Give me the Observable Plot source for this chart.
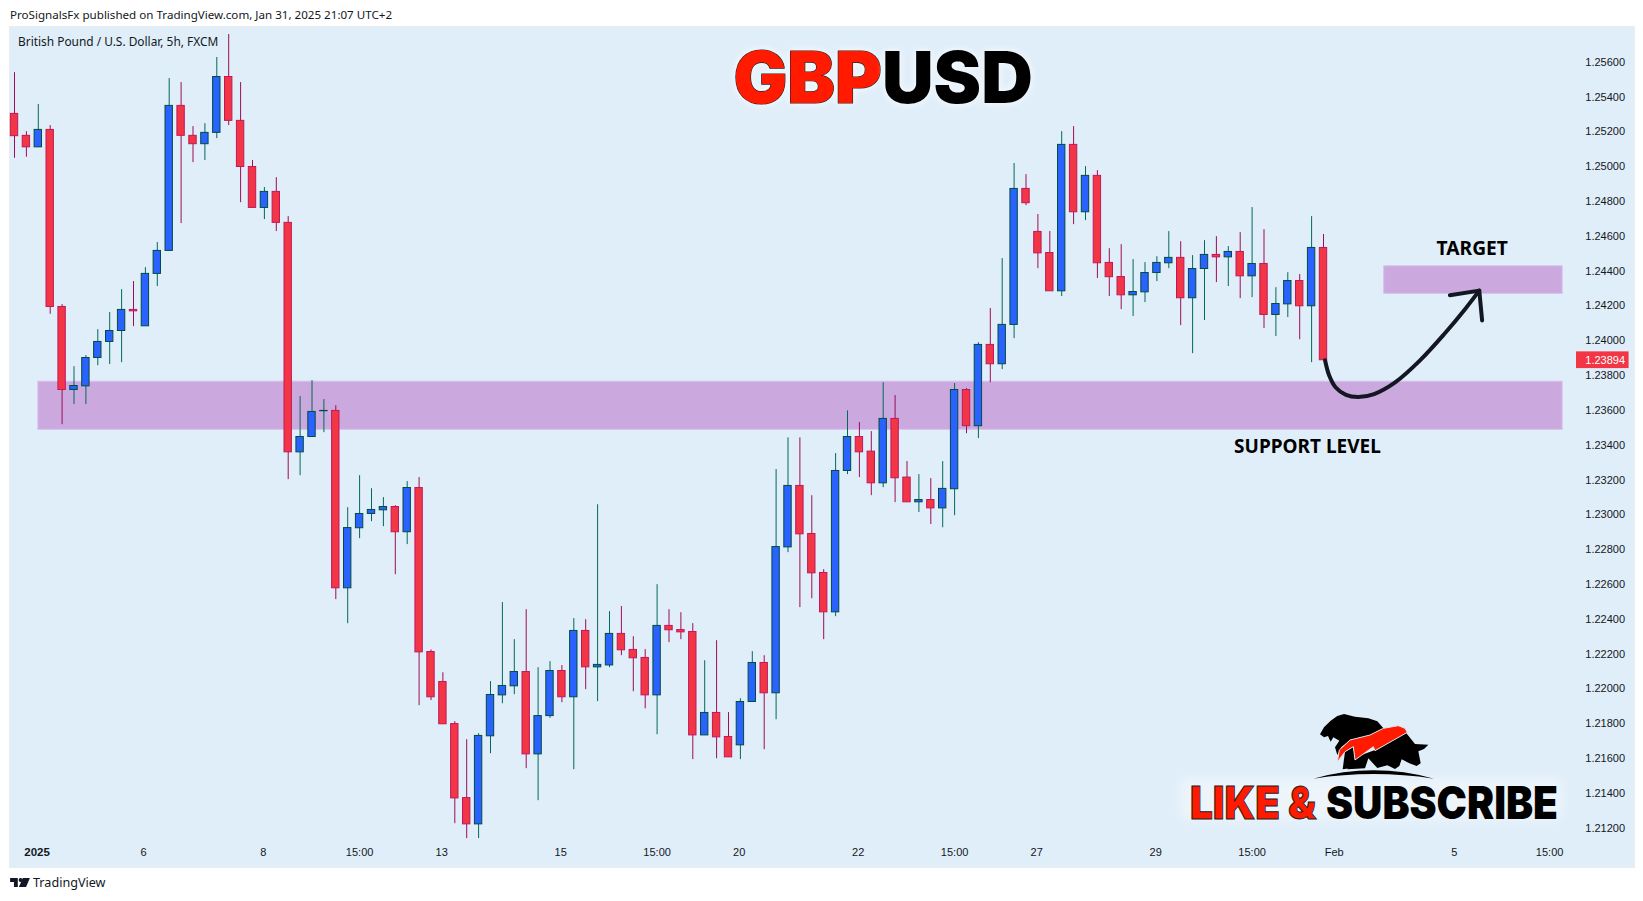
<!DOCTYPE html>
<html><head><meta charset="utf-8">
<script src="https://cdn.jsdelivr.net/npm/d3@7"></script>
<script src="https://cdn.jsdelivr.net/npm/@observablehq/plot@0.6"></script>
<style>
html,body{margin:0;padding:0;background:#fff;overflow:hidden;width:1643px;height:901px}
#panel{position:absolute;left:9.5px;top:26.5px;width:1624px;height:840px;background:#e0eef9;box-shadow:0 0 0 1px #e9edf1}
#chart{position:absolute;left:0;top:0}
.t{position:absolute;white-space:nowrap;color:#131722;font-family:"Noto Sans",sans-serif}
#glow{position:absolute;left:1180px;top:778px;width:382px;height:42px;background:rgba(255,255,255,.42);filter:blur(6px)}
#logo{position:absolute;left:1300px;top:700px}
#like{position:absolute;left:1170px;top:775px}
.glowtext{filter:drop-shadow(0 0 4px rgba(255,255,255,.9))}
</style></head><body>
<div id="panel"></div>
<div id="chart"></div>
<div class="t" style="left:10px;top:7px;font-size:11.6px">ProSignalsFx published on TradingView.com, Jan 31, 2025 21:07 UTC+2</div>
<div class="t" style="left:18px;top:33px;font-size:11.9px">British Pound / U.S. Dollar, 5h, FXCM</div>
<div id="glow"></div>
<svg id="logo" width="160" height="90" viewBox="0 0 480 270">
<path fill="#000" d="M60,103 L72,82 L92,62 L112,48 L132,42 L165,50 L205,55 L232,64 L255,90 L210,108 L150,122 L125,140 L112,165 L105,142 L118,122 L100,112 L92,125 L84,108 L72,112 Z"/>
<path fill="#000" d="M318,98 L345,132 L385,134 L372,147 L355,154 L362,190 L350,198 L328,190 L305,178 L298,198 L285,207 L262,196 L232,204 L205,175 L195,205 L142,208 L158,175 L225,150 Z"/>
<path fill="#000" d="M135,155 L160,140 L165,180 L150,205 L128,208 Z"/>
<path fill="#ff1a00" stroke="#dfe6ee" stroke-width="3" d="M112,186 L118,150 L150,120 L210,105 L250,85 L295,77 L315,85 L322,97 L225,152 L220,140 L165,180 L160,140 L135,155 Z"/>
<path fill="#000" d="M40,236 Q220,186 402,236 Q220,208 40,236 Z"/>
</svg>
<svg id="like" width="400" height="50" style="overflow:visible">
<text x="20" y="44" font-family="Inter" font-weight="900" font-size="45" textLength="126" lengthAdjust="spacingAndGlyphs" fill="#ff1a00" stroke="#222" stroke-width="1">LIKE &amp;</text>
<text x="156" y="44" font-family="Inter" font-weight="900" font-size="45" textLength="232" lengthAdjust="spacingAndGlyphs" fill="#000">SUBSCRIBE</text>
</svg>
<svg class="t" style="left:10px;top:877px" width="20" height="11" viewBox="0 0 36 20"><path fill="#131722" d="M0,2 H14 V18 H7 V9 H0 Z M16,18 L23,2 H36 L29,18 Z"/><circle cx="19" cy="5.5" r="3.5" fill="#131722"/></svg>
<div class="t" style="left:33px;top:874px;font-size:12.6px">TradingView</div>
<script>
const opens=[1.25303,1.25177,1.25111,1.25211,1.24194,1.23717,1.23738,1.23901,1.23993,1.24056,1.24177,1.24083,1.24384,1.24516,1.25349,1.25177,1.25129,1.25194,1.25515,1.25263,1.24998,1.24763,1.24855,1.24677,1.23359,1.23447,1.23595,1.23597,1.22578,1.22923,1.23005,1.23026,1.23045,1.22900,1.23154,1.22212,1.22040,1.21798,1.21373,1.21222,1.21728,1.21963,1.22015,1.22097,1.21624,1.21844,1.22103,1.21952,1.22333,1.22124,1.22135,1.22316,1.22224,1.22178,1.21963,1.22362,1.22338,1.22327,1.21733,1.21862,1.21724,1.21676,1.21925,1.22149,1.21975,1.22813,1.23166,1.22890,1.22666,1.22440,1.23252,1.23447,1.23363,1.23181,1.23551,1.23214,1.23072,1.23085,1.23037,1.23147,1.23717,1.23509,1.23976,1.23865,1.24091,1.24872,1.24625,1.24504,1.24284,1.25125,1.24738,1.24947,1.24447,1.24366,1.24261,1.24278,1.24389,1.24445,1.24476,1.24244,1.24412,1.24493,1.24479,1.24510,1.24370,1.24441,1.24148,1.24209,1.24343,1.24198,1.24533];
const closes=[1.25175,1.25111,1.25211,1.24194,1.23717,1.23740,1.23901,1.23993,1.24056,1.24177,1.24169,1.24384,1.24516,1.25349,1.25177,1.25129,1.25194,1.25515,1.25263,1.24998,1.24763,1.24855,1.24677,1.23359,1.23447,1.23591,1.23597,1.22578,1.22924,1.23005,1.23028,1.23045,1.22900,1.23154,1.22210,1.21952,1.21797,1.21371,1.21222,1.21730,1.21965,1.22017,1.22097,1.21624,1.21844,1.22103,1.21952,1.22333,1.22124,1.22138,1.22316,1.22222,1.22176,1.21963,1.22362,1.22337,1.22325,1.21733,1.21862,1.21722,1.21607,1.21925,1.22149,1.21975,1.22815,1.23166,1.22888,1.22664,1.22440,1.23252,1.23447,1.23359,1.23181,1.23551,1.23210,1.23072,1.23085,1.23037,1.23149,1.23717,1.23509,1.23976,1.23865,1.24091,1.24872,1.24790,1.24502,1.24284,1.25125,1.24738,1.24947,1.24445,1.24365,1.24261,1.24280,1.24389,1.24447,1.24476,1.24244,1.24412,1.24493,1.24479,1.24510,1.24370,1.24441,1.24148,1.24211,1.24343,1.24198,1.24533,1.23888];
const highs=[1.25540,1.25201,1.25357,1.25236,1.24208,1.23851,1.23915,1.24064,1.24162,1.24294,1.24340,1.24420,1.24564,1.25506,1.25483,1.25230,1.25247,1.25627,1.25759,1.25483,1.25035,1.24880,1.24937,1.24713,1.23679,1.23771,1.23662,1.23627,1.23041,1.23225,1.23150,1.23099,1.23053,1.23191,1.23214,1.22224,1.22093,1.21812,1.21708,1.21743,1.22042,1.22496,1.22283,1.22455,1.22122,1.22157,1.22134,1.22404,1.22398,1.23058,1.22444,1.22473,1.22300,1.22226,1.22599,1.22455,1.22438,1.22375,1.22162,1.22277,1.21864,1.21944,1.22214,1.22191,1.23260,1.23442,1.23442,1.23110,1.22685,1.23352,1.23597,1.23530,1.23478,1.23759,1.23685,1.23306,1.23231,1.23208,1.23306,1.23754,1.23725,1.23989,1.24185,1.24472,1.25018,1.24954,1.24725,1.24627,1.25201,1.25230,1.25000,1.24977,1.24529,1.24552,1.24466,1.24449,1.24483,1.24627,1.24569,1.24489,1.24575,1.24598,1.24541,1.24621,1.24765,1.24638,1.24305,1.24391,1.24380,1.24713,1.24610];
const lows=[1.25048,1.25054,1.25111,1.24152,1.23518,1.23633,1.23633,1.23857,1.23863,1.23874,1.24081,1.24083,1.24311,1.24516,1.24673,1.25023,1.25035,1.25161,1.25236,1.24793,1.24763,1.24696,1.24627,1.23202,1.23225,1.23447,1.23472,1.22513,1.22375,1.22863,1.22961,1.22932,1.22656,1.22829,1.21904,1.21933,1.21797,1.21226,1.21140,1.21140,1.21628,1.21915,1.21967,1.21542,1.21358,1.21831,1.21921,1.21536,1.21996,1.21927,1.22122,1.22191,1.21984,1.21886,1.21737,1.22266,1.22283,1.21594,1.21733,1.21599,1.21607,1.21594,1.21925,1.21651,1.21823,1.22783,1.22467,1.22518,1.22283,1.22415,1.23231,1.23214,1.23110,1.23156,1.23070,1.23072,1.23013,1.22944,1.22926,1.22995,1.23466,1.23438,1.23759,1.23834,1.24012,1.24776,1.24414,1.24284,1.24254,1.24667,1.24690,1.24357,1.24254,1.24179,1.24139,1.24219,1.24340,1.24414,1.24087,1.23926,1.24116,1.24334,1.24311,1.24242,1.24248,1.24070,1.24024,1.24133,1.24006,1.23874,1.23888];
const yTicks=[1.256,1.254,1.252,1.25,1.248,1.246,1.244,1.242,1.24,1.238,1.236,1.234,1.232,1.23,1.228,1.226,1.224,1.222,1.22,1.218,1.216,1.214,1.212];
const xTickBars=[10.85,20.9,29,35.9,45.9,54,60.9,70.9,79,85.9,95.9,104,110.9,121,129];
const xTickNames=["6","8","15:00","13","15","15:00","20","22","15:00","27","29","15:00","Feb","5","15:00"];
const yearBar=[1.9], yearName=["2025"], yearLabelPrice=[1.21062];
const zones=[{name:"support",a:2,b:130.1,top:1.23765,bottom:1.23488},{name:"target",a:115.1,b:130.1,top:1.24428,bottom:1.24269}];
const pathBars=[110.13,110.48,111.01,111.89,112.93,114.25,116.02,118.09,120.15,121.91,123.09];
const pathPrices=[1.23888,1.23800,1.23733,1.23689,1.23677,1.23694,1.23761,1.23886,1.24039,1.24183,1.24288];
const headBars=[120.62,123.09,123.33];
const headPrices=[1.24261,1.24288,1.24116];
const lastPrice=1.23894;

const bars=opens.map((o,i)=>({i,o,c:closes[i],h:highs[i],l:lows[i],up:closes[i]>=o}));
const halfW=0.31;
const wick=d=>d.up?"#00695c":"#9c0d55", edge=d=>d.up?"#004d40":"#c2185b", body=d=>d.up?"#2962ff":"#f23645";
const tickName=new Map(xTickBars.map((b,k)=>[b,xTickNames[k]]));
const arrow=pathBars.map((x,k)=>({x,y:pathPrices[k]}));
const head=headBars.map((x,k)=>({x,y:headPrices[k]}));
const axisFont="'Liberation Sans',Arial,sans-serif";

const plot=Plot.plot({
  width:1643,height:901,
  marginLeft:0,marginTop:0,marginRight:58.2,marginBottom:58,
  style:{background:"transparent",fontFamily:axisFont,fontSize:"11px",color:"#131722"},
  x:{type:"linear",domain:[0,110],range:[14,1323],axis:null},
  y:{type:"linear",domain:[1.256,1.212],range:[61.7,827.7],axis:null},
  marks:[
    Plot.rect(zones,{x1:"a",x2:"b",y1:"top",y2:"bottom",fill:"#cba9de",stroke:"#d9c2ee",strokeWidth:1}),
    Plot.ruleX(bars,{x:"i",y1:"h",y2:"l",stroke:wick,strokeWidth:1}),
    Plot.rect(bars,{x1:d=>d.i-halfW,x2:d=>d.i+halfW,y1:"o",y2:"c",fill:body,stroke:edge,strokeWidth:1}),
    Plot.axisY({ticks:yTicks,anchor:"right",tickSize:0,tickPadding:0,tickFormat:d3.format(".5f"),label:null,fill:"#131722",fontSize:11}),
    Plot.axisX({ticks:xTickBars,anchor:"bottom",tickSize:0,tickPadding:5,tickFormat:d=>tickName.get(d),label:null,fill:"#131722",fontSize:11}),
    Plot.text(yearName,{x:yearBar,y:yearLabelPrice,text:d=>d,fontWeight:"bold",fontSize:11.5,fill:"#131722"}),
    Plot.rect([lastPrice],{x1:[131.26],x2:[135.68],y1:[1.23936],y2:[1.23840],fill:"#f23645"}),
    Plot.text([lastPrice],{x:[132],y:[1.23888],text:d=>d.toFixed(5),textAnchor:"start",fill:"#fff",fontSize:11}),
    Plot.line(arrow,{x:"x",y:"y",curve:"catmull-rom",stroke:"#131722",strokeWidth:4,strokeLinecap:"round"}),
    Plot.line(head,{x:"x",y:"y",stroke:"#131722",strokeWidth:4,strokeLinecap:"round",strokeLinejoin:"round"}),
    Plot.text(["TARGET"],{x:[122.5],y:[1.2453],text:d=>d,fontFamily:"'Noto Sans'",fontWeight:"bold",fontSize:19.2,fill:"#000"}),
    Plot.text(["SUPPORT LEVEL"],{x:[108.65],y:[1.23393],text:d=>d,fontFamily:"'Noto Sans'",fontWeight:"bold",fontSize:19,fill:"#000"}),
    Plot.text(["GBP"],{x:[72.9],y:[1.25499],text:d=>d,textAnchor:"end",fontFamily:"Inter",fontWeight:900,fontSize:71.5,fill:"#ff1a00",stroke:"#222",strokeWidth:1.2,className:"glowtext"}),
    Plot.text(["USD"],{x:[72.9],y:[1.25499],text:d=>d,textAnchor:"start",fontFamily:"Inter",fontWeight:900,fontSize:71.5,fill:"#000",className:"glowtext"})
  ]
});
document.getElementById("chart").appendChild(plot);
</script>
</body></html>
